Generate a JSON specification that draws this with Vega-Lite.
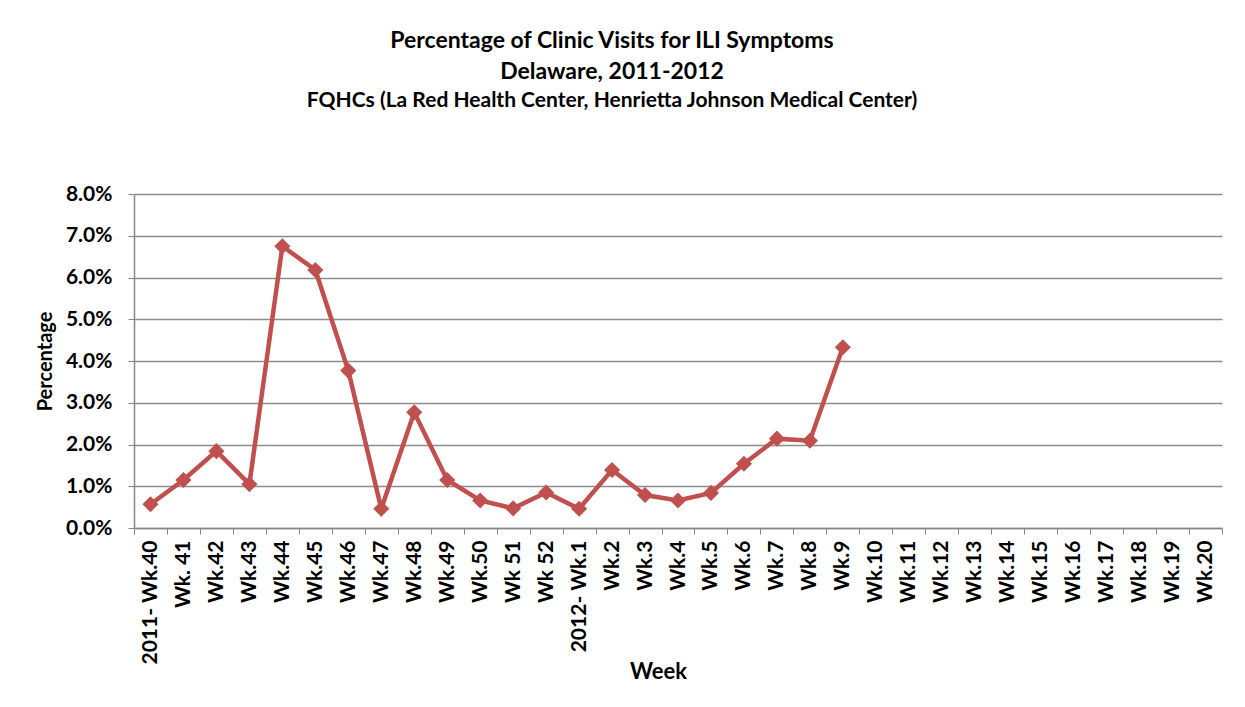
{
  "$schema": "https://vega.github.io/schema/vega-lite/v6.json",
  "autosize": {"type": "none"},
  "width": 1088,
  "height": 334,
  "padding": {"left": 134, "top": 194, "right": 23, "bottom": 179},
  "background": "white",
  "config": {
    "font": "Lato",
    "view": {"stroke": null},
    "title": {"font": "Lato", "fontWeight": "bold", "color": "#000000"}
  },
  "title": {
    "text": ["Percentage of Clinic Visits for ILI Symptoms", "Delaware, 2011-2012"],
    "subtitle": "FQHCs (La Red Health Center, Henrietta Johnson  Medical  Center)",
    "fontSize": 23,
    "lineHeight": 31,
    "subtitleFontSize": 21,
    "subtitleFont": "Lato",
    "subtitleFontWeight": "bold",
    "subtitleColor": "#000000",
    "subtitlePadding": 6,
    "anchor": "middle",
    "frame": "group",
    "dx": -66,
    "offset": 72
  },
  "data": {
    "values": [
      {"week": "2011- Wk.40", "pct": 0.0057},
      {"week": "Wk. 41", "pct": 0.0115},
      {"week": "Wk.42", "pct": 0.0184},
      {"week": "Wk.43", "pct": 0.0105},
      {"week": "Wk.44", "pct": 0.0675},
      {"week": "Wk.45", "pct": 0.0618},
      {"week": "Wk.46", "pct": 0.0377},
      {"week": "Wk.47", "pct": 0.0046},
      {"week": "Wk.48", "pct": 0.0277},
      {"week": "Wk.49", "pct": 0.0115},
      {"week": "Wk.50", "pct": 0.0066},
      {"week": "Wk 51", "pct": 0.0047},
      {"week": "Wk 52", "pct": 0.0085},
      {"week": "2012- Wk.1", "pct": 0.0046},
      {"week": "Wk.2", "pct": 0.0139},
      {"week": "Wk.3", "pct": 0.0079},
      {"week": "Wk.4", "pct": 0.0066},
      {"week": "Wk.5", "pct": 0.0084},
      {"week": "Wk.6", "pct": 0.0154},
      {"week": "Wk.7", "pct": 0.0214},
      {"week": "Wk.8", "pct": 0.0209},
      {"week": "Wk.9", "pct": 0.0433}
    ]
  },
  "encoding": {
    "x": {
      "field": "week",
      "type": "ordinal",
      "sort": null,
      "scale": {
        "type": "band",
        "paddingInner": 0,
        "paddingOuter": 0,
        "domain": ["2011- Wk.40", "Wk. 41", "Wk.42", "Wk.43", "Wk.44", "Wk.45", "Wk.46", "Wk.47", "Wk.48", "Wk.49", "Wk.50", "Wk 51", "Wk 52", "2012- Wk.1", "Wk.2", "Wk.3", "Wk.4", "Wk.5", "Wk.6", "Wk.7", "Wk.8", "Wk.9", "Wk.10", "Wk.11", "Wk.12", "Wk.13", "Wk.14", "Wk.15", "Wk.16", "Wk.17", "Wk.18", "Wk.19", "Wk.20"]
      },
      "axis": {
        "title": "Week",
        "titleFont": "Lato",
        "titleFontSize": 22,
        "titleFontWeight": "bold",
        "titleColor": "#000000",
        "titleX": 524,
        "titleY": 133,
        "labelAngle": -90,
        "labelAlign": "right",
        "labelBaseline": "middle",
        "labelFont": "Lato",
        "labelFontSize": 21,
        "labelFontWeight": "bold",
        "labelColor": "#000000",
        "labelPadding": 6,
        "labelOverlap": false,
        "tickBand": "extent",
        "tickColor": "#888888",
        "tickSize": 6,
        "tickWidth": 1,
        "domainColor": "#888888",
        "domainWidth": 1.5,
        "grid": false
      }
    },
    "y": {
      "field": "pct",
      "type": "quantitative",
      "scale": {"domain": [0, 0.08], "nice": false},
      "axis": {
        "title": "Percentage",
        "titleFont": "Lato",
        "titleFontSize": 20,
        "titleFontWeight": "bold",
        "titleColor": "#000000",
        "titlePadding": 10,
        "format": ".1%",
        "values": [0, 0.01, 0.02, 0.03, 0.04, 0.05, 0.06, 0.07, 0.08],
        "labelFont": "Lato",
        "labelFontSize": 21,
        "labelFontWeight": "bold",
        "labelColor": "#000000",
        "labelPadding": 16,
        "tickColor": "#888888",
        "tickSize": 6,
        "domainColor": "#888888",
        "domainWidth": 1.5,
        "gridColor": "#8c8c8c",
        "gridWidth": 1.5
      }
    }
  },
  "layer": [
    {"mark": {"type": "line", "color": "#C0504D", "strokeWidth": 4.5}},
    {"mark": {"type": "point", "shape": "diamond", "filled": true, "color": "#C0504D", "opacity": 1, "size": 260}}
  ]
}
